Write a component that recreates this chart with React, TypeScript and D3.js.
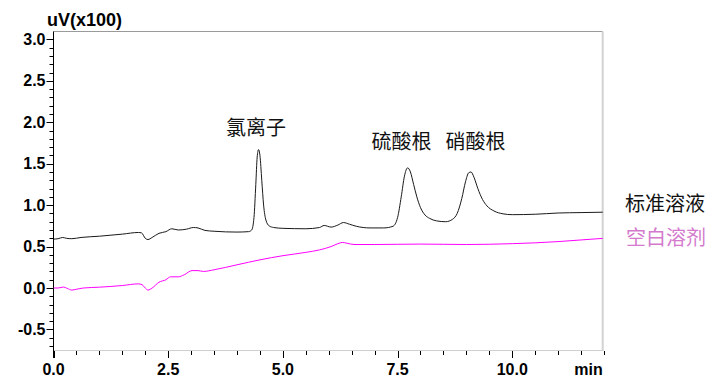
import React from "react";
import * as d3 from "d3";

const stdTime = [0.0, 0.1, 0.2, 0.28, 0.4, 0.6, 1.0, 1.5, 1.85, 1.92, 2.0, 2.06, 2.15, 2.3, 2.45, 2.58, 2.72, 2.9, 3.05, 3.15, 3.3, 3.5, 4.0, 4.25, 4.32, 4.37, 4.41, 4.44, 4.47, 4.5, 4.54, 4.58, 4.63, 4.7, 4.8, 5.0, 5.5, 5.8, 5.9, 6.05, 6.2, 6.32, 6.45, 6.6, 6.9, 7.2, 7.4, 7.5, 7.58, 7.65, 7.72, 7.78, 7.85, 7.92, 8.0, 8.1, 8.2, 8.35, 8.55, 8.7, 8.8, 8.9, 8.98, 9.05, 9.1, 9.17, 9.25, 9.35, 9.45, 9.6, 9.8, 10.0, 10.5, 11.0, 11.5, 12.0];
const stdValue = [0.59, 0.595, 0.61, 0.6, 0.595, 0.61, 0.625, 0.65, 0.67, 0.665, 0.6, 0.585, 0.61, 0.66, 0.68, 0.715, 0.7, 0.71, 0.73, 0.725, 0.695, 0.685, 0.675, 0.68, 0.7, 0.85, 1.25, 1.58, 1.67, 1.6, 1.3, 1.0, 0.82, 0.75, 0.73, 0.72, 0.715, 0.73, 0.755, 0.735, 0.76, 0.79, 0.77, 0.745, 0.725, 0.725, 0.745, 0.85, 1.1, 1.35, 1.45, 1.4, 1.25, 1.1, 0.97, 0.88, 0.84, 0.81, 0.8, 0.83, 0.9, 1.08, 1.28, 1.39, 1.4, 1.33, 1.2, 1.07, 0.99, 0.93, 0.895, 0.885, 0.89, 0.905, 0.91, 0.915];

const blankTime = [0.0, 0.1, 0.22, 0.3, 0.4, 0.5, 0.65, 1.0, 1.5, 1.85, 1.93, 2.0, 2.06, 2.15, 2.3, 2.45, 2.55, 2.72, 2.85, 3.02, 3.15, 3.27, 3.5, 4.0, 4.5, 5.0, 5.5, 5.8, 6.05, 6.2, 6.3, 6.4, 6.55, 7.0, 8.0, 9.0, 10.0, 10.5, 11.0, 11.5, 12.0];
const blankValue = [0.0, 0.0, 0.012, -0.005, -0.025, -0.015, 0.0, 0.01, 0.03, 0.05, 0.04, 0.0, -0.025, 0.0, 0.07, 0.1, 0.135, 0.135, 0.16, 0.21, 0.21, 0.2, 0.22, 0.28, 0.34, 0.39, 0.43, 0.46, 0.5, 0.535, 0.55, 0.54, 0.525, 0.525, 0.53, 0.525, 0.535, 0.545, 0.56, 0.58, 0.6];

const xMajorTicks = [0, 2.5, 5, 7.5, 10];
const yMajorTicks = [-0.5, 0, 0.5, 1, 1.5, 2, 2.5, 3];
const seriesNames = ["标准溶液", "空白溶剂"];
const peakNames = ["氯离子", "硫酸根", "硝酸根"];

export default function App() {
  const W = 722, H = 384;
  const left = 53.5, right = 604, top = 31.5, bottom = 351;
  const x = d3.scaleLinear().domain([0, 12]).range([left, right]);
  const y = d3.scaleLinear().domain([-0.76, 3.095]).range([bottom, top]);
  const xMinor = d3.range(0, 12.001, 0.5);
  const yMinor = d3.range(-0.7, 3.0001, 0.1);

  const line = d3.line<number>().curve(d3.curveMonotoneX);
  const stdPath = line.x((_, i) => x(stdTime[i])).y((d) => y(d))(stdValue) || "";
  const blankPath = line.x((_, i) => x(blankTime[i])).y((d) => y(d))(blankValue) || "";

  const tickFont = "'Liberation Sans', Arial, sans-serif";
  const cjk = "'Noto Sans CJK SC', sans-serif";
  const frameR = 602.7;

  return (
    <svg width={W} height={H} style={{ position: "absolute", left: 0, top: 0, background: "#fff" }}>
      <defs>
        <clipPath id="plot">
          <rect x={left} y={top} width={frameR - left} height={bottom - top} />
        </clipPath>
      </defs>
      <line x1={left} x2={frameR} y1={top} y2={top} stroke="#9a9a9a" strokeWidth={1} />
      <line x1={frameR} x2={frameR} y1={top} y2={bottom} stroke="#d2d2d2" strokeWidth={2} />
      <line x1={left} x2={frameR} y1={bottom - 0.5} y2={bottom - 0.5} stroke="#cfcfcf" strokeWidth={1} />
      <line x1={left} x2={left} y1={top} y2={bottom + 7} stroke="#000" strokeWidth={1} />

      {yMinor.map((v, i) => (
        <line key={"ym" + i} x1={left - 4} x2={left} y1={Math.round(y(v)) + 0.5} y2={Math.round(y(v)) + 0.5} stroke="#000" />
      ))}
      {yMajorTicks.map((v, i) => (
        <g key={"yM" + i}>
          <line x1={left - 7} x2={left} y1={Math.round(y(v)) + 0.5} y2={Math.round(y(v)) + 0.5} stroke="#000" />
          <text x={left - 8} y={y(v) + 5.5} textAnchor="end" fontFamily={tickFont} fontWeight="bold" fontSize={16} fill="#000">
            {v.toFixed(1)}
          </text>
        </g>
      ))}

      {xMinor.map((v, i) => (
        <line key={"xm" + i} x1={Math.round(x(v)) + 0.5} x2={Math.round(x(v)) + 0.5} y1={bottom} y2={bottom + 4} stroke="#000" />
      ))}
      {xMajorTicks.map((v, i) => (
        <g key={"xM" + i}>
          <line x1={Math.round(x(v)) + 0.5} x2={Math.round(x(v)) + 0.5} y1={bottom} y2={bottom + 7} stroke="#000" />
          <text x={x(v)} y={bottom + 24} textAnchor="middle" fontFamily={tickFont} fontWeight="bold" fontSize={16} fill="#000">
            {v.toFixed(1)}
          </text>
        </g>
      ))}
      <text x={frameR} y={bottom + 24} textAnchor="end" fontFamily={tickFont} fontWeight="bold" fontSize={16} fill="#000">min</text>
      <text x={47} y={26} fontFamily={tickFont} fontWeight="bold" fontSize={18} fill="#000">uV(x100)</text>

      <g clipPath="url(#plot)">
        <path d={blankPath} fill="none" stroke="#ff00ff" strokeWidth={1} />
        <path d={stdPath} fill="none" stroke="#1a1a1a" strokeWidth={1} />
      </g>

      <text x={256} y={135} textAnchor="middle" fontFamily={cjk} fontSize={20} fill="#111">{peakNames[0]}</text>
      <text x={401.5} y={149} textAnchor="middle" fontFamily={cjk} fontSize={20} fill="#111">{peakNames[1]}</text>
      <text x={475.5} y={149} textAnchor="middle" fontFamily={cjk} fontSize={20} fill="#111">{peakNames[2]}</text>

      <text x={625} y={211} fontFamily={cjk} fontSize={20} fill="#111">{seriesNames[0]}</text>
      <text x={626} y={245} fontFamily={cjk} fontSize={20} fill="#d47acd">{seriesNames[1]}</text>
    </svg>
  );
}
